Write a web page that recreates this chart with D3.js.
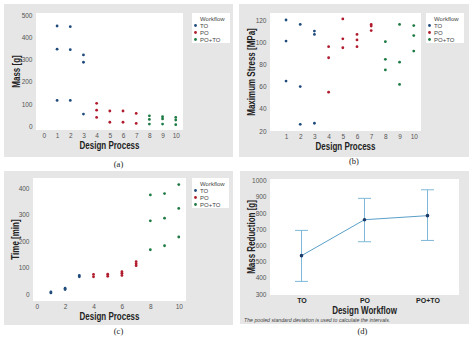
<!DOCTYPE html>
<html>
<head>
<meta charset="utf-8">
<script src="https://cdn.jsdelivr.net/npm/d3@7"></script>
<style>
  body { margin: 0; background: #fff; }
  svg text { font-family: "Liberation Sans", Arial, sans-serif; }
</style>
</head>
<body>
<div id="chart"></div>
<script>
// design steps and the workflow each one belongs to
const designSteps = [1, 2, 3, 4, 5, 6, 7, 8, 9, 10];
const stepWorkflow = ["TO", "TO", "TO", "PO", "PO", "PO", "PO", "PO+TO", "PO+TO", "PO+TO"];
const workflows = ["TO", "PO", "PO+TO"];

// per-step measurements
const massValues = [[453, 348, 116], [450, 346, 116], [322, 289, 54], [103, 72, 39], [68, 17],
    [68, 17], [57, 12], [46, 30, 9], [42, 32, 9], [39, 27, 6]];
const stressValues = [[120, 101, 65], [116, 60, 26], [110, 107, 27], [96, 86, 55], [121, 103, 95],
    [107, 102, 96], [116, 114.5, 110.5], [100.5, 84.6, 75], [116, 82, 62], [115, 106, 92]];
const timeValues = [[8, 4], [22, 17], [70, 65], [74, 65], [75, 67], [84, 78, 70],
    [122, 114, 107], [374, 276, 167], [379, 286, 182], [413, 323, 215]];

// mass reduction per workflow with interval bounds
const meanReduction = [537, 759, 784];
const lowerBound = [378, 623, 631];
const upperBound = [693, 891, 944];

const colors = {"TO": "#1f4a7c", "PO": "#b01c2e", "PO+TO": "#1d7a43"};

const svg = d3.select("#chart").append("svg")
    .attr("width", 474)
    .attr("height", 337);

function flatten(values) {
    let out = [];
    designSteps.forEach((step, i) => {
        values[i].forEach(v => out.push({step: step, value: v, workflow: stepWorkflow[i]}));
    });
    return out;
}

function panelFrame(box, plot) {
    svg.append("rect")
        .attr("x", box.x).attr("y", box.y)
        .attr("width", box.w).attr("height", box.h)
        .attr("fill", "#e6e6e6");
    svg.append("rect")
        .attr("x", plot.x).attr("y", plot.y)
        .attr("width", plot.w).attr("height", plot.h)
        .attr("fill", "#fff");
}

function styleAxis(g, size) {
    g.select(".domain").remove();
    g.selectAll("text")
        .attr("fill", "#555")
        .style("font-size", size + "px");
}

// bold titles squeezed horizontally to get a narrow face
function boldTitle(transform, label) {
    svg.append("text")
        .attr("transform", transform)
        .attr("text-anchor", "middle")
        .attr("font-weight", "bold")
        .attr("font-size", 10)
        .attr("fill", "#222")
        .text(label);
}

function axisTitles(plot, xTitle, yTitle, yTitleX) {
    boldTitle(`translate(${plot.x + plot.w / 2}, ${plot.y + plot.h + 19}) scale(0.8, 1)`, xTitle);
    boldTitle(`translate(${yTitleX}, ${plot.y + plot.h / 2}) rotate(-90) scale(0.8, 1)`, yTitle);
}

function legend(x, y, w, h) {
    svg.append("rect")
        .attr("x", x).attr("y", y)
        .attr("width", w).attr("height", h)
        .attr("fill", "#fff");
    svg.append("text")
        .attr("x", x + 8).attr("y", y + 7.5)
        .attr("font-size", 6)
        .attr("fill", "#444")
        .text("Workflow");
    workflows.forEach((wf, i) => {
        let cy = y + 12.5 + i * 7;
        svg.append("circle")
            .attr("cx", x + 3.5).attr("cy", cy)
            .attr("r", 1.4)
            .attr("fill", colors[wf]);
        svg.append("text")
            .attr("x", x + 8).attr("y", cy + 2.1)
            .attr("font-size", 6)
            .attr("fill", "#444")
            .text(wf);
    });
}

function caption(x, y, label) {
    svg.append("text")
        .attr("x", x).attr("y", y)
        .attr("text-anchor", "middle")
        .attr("font-size", 8.5)
        .style("font-family", "'Liberation Serif', 'Times New Roman', serif")
        .attr("fill", "#222")
        .text(label);
}

function scatterPanel(opt) {
    let {box, plot} = opt;
    panelFrame(box, plot);

    let x = d3.scaleLinear().domain(opt.xDomain).range([plot.x, plot.x + plot.w]);
    let y = d3.scaleLinear().domain(opt.yDomain).range([plot.y + plot.h, plot.y]);

    svg.append("g")
        .attr("transform", `translate(0, ${plot.y + plot.h})`)
        .call(d3.axisBottom(x).tickValues(opt.xTicks).tickSize(0).tickPadding(3.5))
        .call(g => styleAxis(g, 6.5));
    svg.append("g")
        .attr("transform", `translate(${plot.x}, 0)`)
        .call(d3.axisLeft(y).tickValues(opt.yTicks).tickSize(0).tickPadding(3.5))
        .call(g => styleAxis(g, 6.5));

    svg.append("g")
        .selectAll("circle")
        .data(flatten(opt.values))
        .join("circle")
        .attr("cx", d => x(d.step))
        .attr("cy", d => y(d.value))
        .attr("r", 1.4)
        .attr("fill", d => colors[d.workflow]);

    axisTitles(plot, "Design Process", opt.yTitle, opt.yTitleX);
    legend(opt.legend.x, opt.legend.y, opt.legend.w, opt.legend.h);
    caption(box.x + box.w / 2, opt.captionY, opt.caption);
}

// (a) mass
scatterPanel({
    box: {x: 4, y: 4, w: 229, h: 153},
    plot: {x: 36, y: 13, w: 147, h: 117},
    xDomain: [-0.6, 10.55], yDomain: [-18, 512],
    xTicks: d3.range(0, 11), yTicks: d3.range(0, 501, 100),
    values: massValues,
    yTitle: "Mass [g]", yTitleX: 20,
    legend: {x: 192, y: 13, w: 38, h: 30},
    caption: "(a)", captionY: 167
});

// (b) maximum stress
scatterPanel({
    box: {x: 239, y: 4, w: 230, h: 153},
    plot: {x: 270, y: 13, w: 151, h: 118},
    xDomain: [-0.13, 10.51], yDomain: [20, 126.3],
    xTicks: d3.range(1, 11), yTicks: d3.range(20, 121, 20),
    values: stressValues,
    yTitle: "Maximum Stress [MPa]", yTitleX: 255,
    legend: {x: 426, y: 13, w: 38, h: 30},
    caption: "(b)", captionY: 164
});

// (c) time
scatterPanel({
    box: {x: 4, y: 171, w: 229, h: 154},
    plot: {x: 33, y: 178, w: 153, h: 123},
    xDomain: [-0.26, 10.51], yDomain: [-26.4, 437.7],
    xTicks: d3.range(0, 11, 2), yTicks: d3.range(0, 401, 100),
    values: timeValues,
    yTitle: "Time [min]", yTitleX: 19,
    legend: {x: 192, y: 178, w: 37, h: 30},
    caption: "(c)", captionY: 334
});

// (d) mass reduction interval plot
(function () {
    let box = {x: 240, y: 171, w: 229, h: 153};
    let plot = {x: 270, y: 179, w: 189, h: 116};
    panelFrame(box, plot);

    let x = d3.scalePoint().domain(workflows).range([plot.x, plot.x + plot.w]).padding(0.5);
    let y = d3.scaleLinear().domain([294, 1010.5]).range([plot.y + plot.h, plot.y]);

    svg.append("g")
        .attr("transform", `translate(0, ${plot.y + plot.h})`)
        .call(d3.axisBottom(x).tickSize(0).tickPadding(3.5))
        .call(g => {
            g.select(".domain").remove();
            g.selectAll("text")
                .attr("fill", "#222")
                .attr("font-weight", "bold")
                .style("font-size", "7px");
        });
    svg.append("g")
        .attr("transform", `translate(${plot.x}, 0)`)
        .call(d3.axisLeft(y).tickValues(d3.range(300, 1001, 100)).tickFormat(d3.format("d"))
            .tickSize(0).tickPadding(3.5))
        .call(g => styleAxis(g, 6.5));

    let rows = workflows.map((wf, i) => ({wf: wf, mean: meanReduction[i], lo: lowerBound[i], hi: upperBound[i]}));
    let lineColor = "#7fb8d8";

    let bars = svg.append("g").selectAll("g").data(rows).join("g");
    bars.append("line")
        .attr("x1", d => x(d.wf)).attr("x2", d => x(d.wf))
        .attr("y1", d => y(d.lo)).attr("y2", d => y(d.hi))
        .attr("stroke", lineColor).attr("stroke-width", 1);
    bars.append("line")
        .attr("x1", d => x(d.wf) - 6.5).attr("x2", d => x(d.wf) + 6.5)
        .attr("y1", d => y(d.hi)).attr("y2", d => y(d.hi))
        .attr("stroke", lineColor).attr("stroke-width", 1);
    bars.append("line")
        .attr("x1", d => x(d.wf) - 6.5).attr("x2", d => x(d.wf) + 6.5)
        .attr("y1", d => y(d.lo)).attr("y2", d => y(d.lo))
        .attr("stroke", lineColor).attr("stroke-width", 1);

    svg.append("path")
        .datum(rows)
        .attr("fill", "none")
        .attr("stroke", "#5a9fc8")
        .attr("stroke-width", 1)
        .attr("d", d3.line().x(d => x(d.wf)).y(d => y(d.mean)));

    svg.append("g").selectAll("circle")
        .data(rows)
        .join("circle")
        .attr("cx", d => x(d.wf))
        .attr("cy", d => y(d.mean))
        .attr("r", 1.8)
        .attr("fill", "#1d3c6b");

    axisTitles(plot, "Design Workflow", "Mass Reduction [g]", 255);

    svg.append("text")
        .attr("x", 244).attr("y", 321.5)
        .attr("font-size", 5.2)
        .attr("font-style", "italic")
        .attr("fill", "#444")
        .text("The pooled standard deviation is used to calculate the intervals.");

    caption(box.x + box.w / 2 + 8, 334, "(d)");
})();
</script>
</body>
</html>
